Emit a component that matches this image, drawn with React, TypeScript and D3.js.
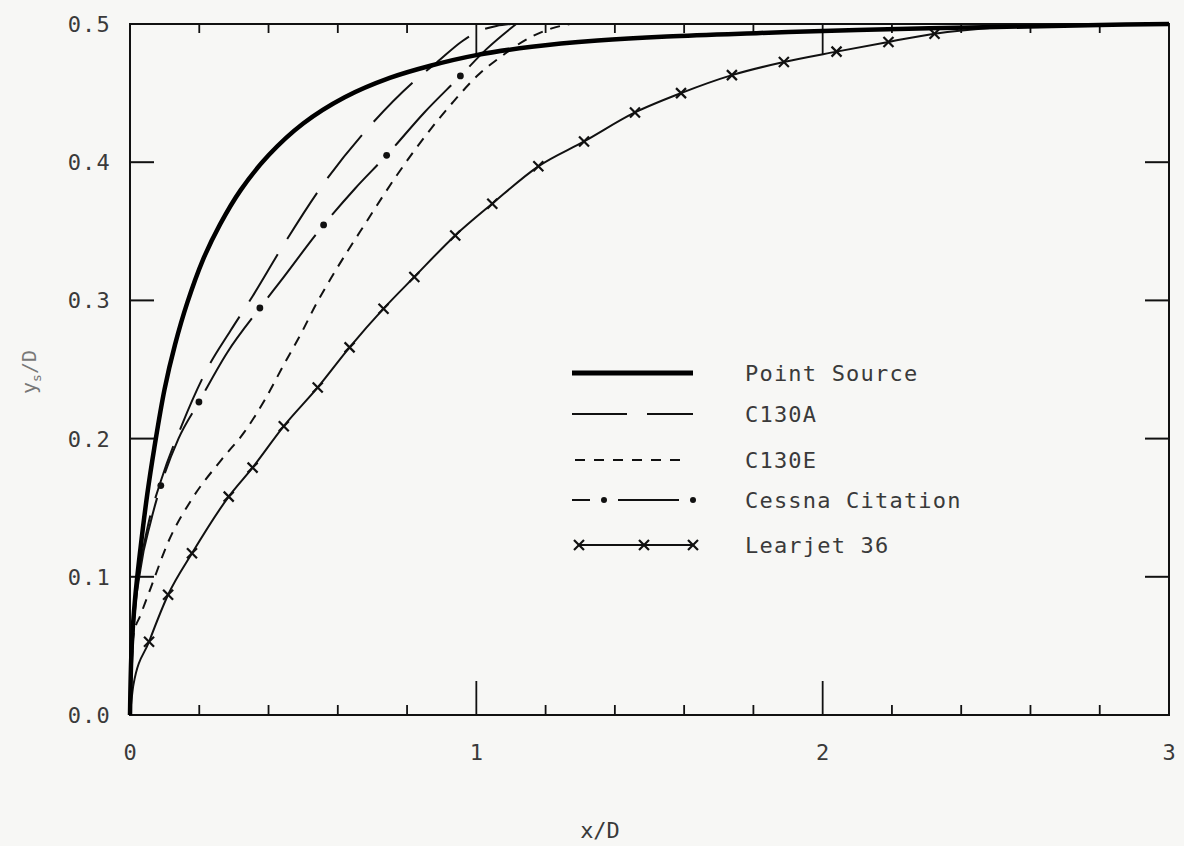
import React, { useEffect, useRef } from 'react';
import * as d3 from 'd3';

const W = 1184, H = 846;
const margin = { left: 130, right: 13, top: 24, bottom: 131 };

// axis ticks
const xMajorTicks = [0, 1, 2, 3];
const xMinorTicks = [0.2, 0.4, 0.6, 0.8, 1.2, 1.4, 1.6, 1.8, 2.2, 2.4, 2.6, 2.8];
const yTicks = [0, 0.1, 0.2, 0.3, 0.4, 0.5];
const yTickLabels = ['0.0', '0.1', '0.2', '0.3', '0.4', '0.5'];
const xTickLabels = ['0', '1', '2', '3'];

// Point Source (heavy solid)
const pointSourceX = [0, 0.005, 0.015, 0.03, 0.05, 0.07, 0.1, 0.13, 0.165, 0.21, 0.26, 0.32, 0.4, 0.5, 0.62, 0.75, 0.87, 1.0, 1.16, 1.35, 1.55, 1.82, 2.1, 2.5, 2.8, 3.0];
const pointSourceY = [0, 0.05, 0.085, 0.12, 0.16, 0.193, 0.236, 0.268, 0.298, 0.329, 0.355, 0.38, 0.405, 0.428, 0.447, 0.461, 0.47, 0.4775, 0.4835, 0.488, 0.491, 0.4935, 0.4957, 0.4978, 0.4993, 0.5];

// C130A (long dash)
const c130aX = [0, 0.008, 0.025, 0.05, 0.09, 0.15, 0.222, 0.29, 0.354, 0.438, 0.556, 0.692, 0.836, 0.885, 0.96, 1.009, 1.058, 1.1];
const c130aY = [0, 0.06, 0.1, 0.135, 0.17, 0.21, 0.25, 0.278, 0.303, 0.338, 0.3835, 0.426, 0.462, 0.472, 0.4877, 0.495, 0.4986, 0.5];

// C130E (short dash)
const c130eX = [0, 0.01, 0.03, 0.06, 0.11, 0.178, 0.265, 0.331, 0.389, 0.441, 0.496, 0.539, 0.585, 0.683, 0.769, 0.856, 0.931, 1.009, 1.066, 1.153, 1.22, 1.27];
const c130eY = [0, 0.058, 0.072, 0.092, 0.125, 0.156, 0.185, 0.205, 0.228, 0.252, 0.277, 0.298, 0.318, 0.357, 0.39, 0.42, 0.443, 0.464, 0.4754, 0.49, 0.497, 0.5];

// Cessna Citation (dash-dot)
const cessnaX = [0, 0.01, 0.03, 0.06, 0.089, 0.14, 0.199, 0.28, 0.375, 0.432, 0.559, 0.65, 0.741, 0.85, 0.954, 1.03, 1.115];
const cessnaY = [0, 0.06, 0.105, 0.14, 0.166, 0.2, 0.2265, 0.262, 0.2945, 0.313, 0.3546, 0.381, 0.405, 0.436, 0.4624, 0.482, 0.5];
const cessnaDotX = [0.089, 0.199, 0.375, 0.559, 0.741, 0.954];
const cessnaDotY = [0.166, 0.2265, 0.2945, 0.3546, 0.405, 0.4624];

// Learjet 36 (solid with x marks)
const learjetX = [0, 0.01, 0.055, 0.11, 0.179, 0.285, 0.354, 0.444, 0.542, 0.634, 0.732, 0.821, 0.939, 1.046, 1.179, 1.311, 1.458, 1.591, 1.738, 1.888, 2.04, 2.19, 2.323, 2.5, 2.7, 3.0];
const learjetY = [0, 0.022, 0.053, 0.087, 0.117, 0.158, 0.179, 0.209, 0.237, 0.266, 0.294, 0.317, 0.347, 0.37, 0.397, 0.415, 0.436, 0.45, 0.463, 0.4725, 0.48, 0.487, 0.493, 0.4975, 0.4995, 0.5];
const learjetMarkX = learjetX.slice(2, 23);
const learjetMarkY = learjetY.slice(2, 23);

const legendNames = ['Point Source', 'C130A', 'C130E', 'Cessna Citation', 'Learjet 36'];

const FONT = '"DejaVu Sans Mono", monospace';
const TEXT = '#3a3a3a';

const x = d3.scaleLinear().domain([0, 3]).range([margin.left, W - margin.right - 2]);
const y = d3.scaleLinear().domain([0, 0.5]).range([H - margin.bottom, margin.top]);

const line = d3.line<[number, number]>()
    .x(d => x(d[0]))
    .y(d => y(d[1]))
    .curve(d3.curveMonotoneX);

// smoother spline for the heavy curve
const smoothLine = d3.line<[number, number]>()
    .x(d => x(d[0]))
    .y(d => y(d[1]))
    .curve(d3.curveCatmullRom.alpha(0.5));

const zip = (xs: number[], ys: number[]) => xs.map((v, i) => [v, ys[i]] as [number, number]);

function Cross({ cx, cy }: { cx: number, cy: number }) {
    const s = 5;
    return (
        <g stroke="#111" strokeWidth={2.2}>
            <line x1={cx - s} y1={cy - s} x2={cx + s} y2={cy + s} />
            <line x1={cx - s} y1={cy + s} x2={cx + s} y2={cy - s} />
        </g>
    );
}

export default function App() {
    const cessnaRef = useRef<SVGPathElement>(null);

    useEffect(() => {
        // break the cessna line around each of its dots
        const path = cessnaRef.current;
        if (!path) return;
        const total = path.getTotalLength();
        const gap = 13;
        const lenAt = (px: number) => {
            let lo = 0, hi = total;
            for (let i = 0; i < 40; i++) {
                const mid = (lo + hi) / 2;
                if (path.getPointAtLength(mid).x < px) lo = mid; else hi = mid;
            }
            return lo;
        };
        const dash: number[] = [];
        let pos = 0;
        cessnaDotX.forEach(v => {
            const L = lenAt(x(v));
            dash.push(Math.max(L - gap - pos, 0), 2 * gap);
            pos = L + gap;
        });
        dash.push(total - pos + 20, 20);
        d3.select(path).attr('stroke-dasharray', dash.join(','));
    }, []);

    const x0 = x(0), x3 = x(3), y0 = y(0), y5 = y(0.5);
    const legX1 = 572, legX2 = 693, legText = 745;
    const legY = [373, 414, 460, 500, 545];

    return (
        <svg width={W} height={H} style={{ position: 'absolute', left: 0, top: 0, background: '#f7f7f5' }}>
            {/* frame */}
            <rect x={x0} y={y5} width={x3 - x0} height={y0 - y5} fill="none" stroke="#111" strokeWidth={2} />

            {/* y ticks */}
            {yTicks.map((t, i) => (
                <g key={'y' + i}>
                    <line x1={x0} x2={x0 + 24} y1={y(t)} y2={y(t)} stroke="#111" strokeWidth={2} />
                    <line x1={x3 - 24} x2={x3} y1={y(t)} y2={y(t)} stroke="#111" strokeWidth={2} />
                    <text x={111} y={y(t)} dy="0.36em" textAnchor="end" fontFamily={FONT} fontSize={22}
                        letterSpacing={1.2} fill={TEXT}>{yTickLabels[i]}</text>
                </g>
            ))}

            {/* x ticks */}
            {xMinorTicks.map((t, i) => (
                <g key={'xm' + i} stroke="#111" strokeWidth={1.8}>
                    <line x1={x(t)} x2={x(t)} y1={y0} y2={y0 - 10} />
                    <line x1={x(t)} x2={x(t)} y1={y5} y2={y5 + 9} />
                </g>
            ))}
            {xMajorTicks.slice(1, 3).map((t, i) => (
                <g key={'xM' + i} stroke="#111" strokeWidth={1.8}>
                    <line x1={x(t)} x2={x(t)} y1={y0} y2={y0 - 34} />
                    <line x1={x(t)} x2={x(t)} y1={y5} y2={y5 + 30} />
                </g>
            ))}
            {xMajorTicks.map((t, i) => (
                <text key={'xl' + i} x={x(t)} y={760} textAnchor="middle" fontFamily={FONT} fontSize={22}
                    fill={TEXT}>{xTickLabels[i]}</text>
            ))}

            {/* axis titles */}
            <text x={600} y={838} textAnchor="middle" fontFamily={FONT} fontSize={22} fill={TEXT}>x/D</text>
            <text transform="translate(36,372) rotate(-90)" textAnchor="middle" fontFamily={FONT} fontSize={20} fill="#777">
                y<tspan fontSize={13} dy={5}>s</tspan><tspan dy={-5}>/D</tspan>
            </text>

            {/* curves */}
            <path d={line(zip(c130eX, c130eY)) || ''} fill="none" stroke="#111" strokeWidth={2} strokeDasharray="10,8" />
            <path d={line(zip(c130aX, c130aY)) || ''} fill="none" stroke="#111" strokeWidth={2} strokeDasharray="55,18" />
            <path ref={cessnaRef} d={line(zip(cessnaX, cessnaY)) || ''} fill="none" stroke="#111" strokeWidth={2} />
            {cessnaDotX.map((v, i) => (
                <circle key={'cd' + i} cx={x(v)} cy={y(cessnaDotY[i])} r={3.4} fill="#111" />
            ))}
            <path d={line(zip(learjetX, learjetY)) || ''} fill="none" stroke="#111" strokeWidth={2} />
            {learjetMarkX.map((v, i) => (
                <Cross key={'lm' + i} cx={x(v)} cy={y(learjetMarkY[i])} />
            ))}
            <path d={smoothLine(zip(pointSourceX, pointSourceY)) || ''} fill="none" stroke="#000" strokeWidth={4.5} />

            {/* legend */}
            <line x1={legX1} x2={legX2} y1={legY[0]} y2={legY[0]} stroke="#000" strokeWidth={5} />
            <line x1={legX1} x2={legX2} y1={legY[1]} y2={legY[1]} stroke="#111" strokeWidth={2} strokeDasharray="55,20" />
            <line x1={legX1 + 3} x2={legX2 - 8} y1={legY[2]} y2={legY[2]} stroke="#111" strokeWidth={2} strokeDasharray="10,9" />
            <g stroke="#111" strokeWidth={2}>
                <line x1={legX1} x2={legX1 + 18} y1={legY[3]} y2={legY[3]} />
                <line x1={legX1 + 46} x2={legX2 - 14} y1={legY[3]} y2={legY[3]} />
            </g>
            <circle cx={legX1 + 32} cy={legY[3]} r={3} fill="#111" />
            <circle cx={legX2} cy={legY[3]} r={3} fill="#111" />
            <line x1={legX1 + 6} x2={legX2} y1={legY[4]} y2={legY[4]} stroke="#111" strokeWidth={2} />
            <Cross cx={legX1 + 7} cy={legY[4]} />
            <Cross cx={legX1 + 72} cy={legY[4]} />
            <Cross cx={legX2} cy={legY[4]} />
            {legendNames.map((n, i) => (
                <text key={'lg' + i} x={legText} y={legY[i]} dy="0.36em" fontFamily={FONT} fontSize={22}
                    letterSpacing={1.2} fill={TEXT}>{n}</text>
            ))}
        </svg>
    );
}
